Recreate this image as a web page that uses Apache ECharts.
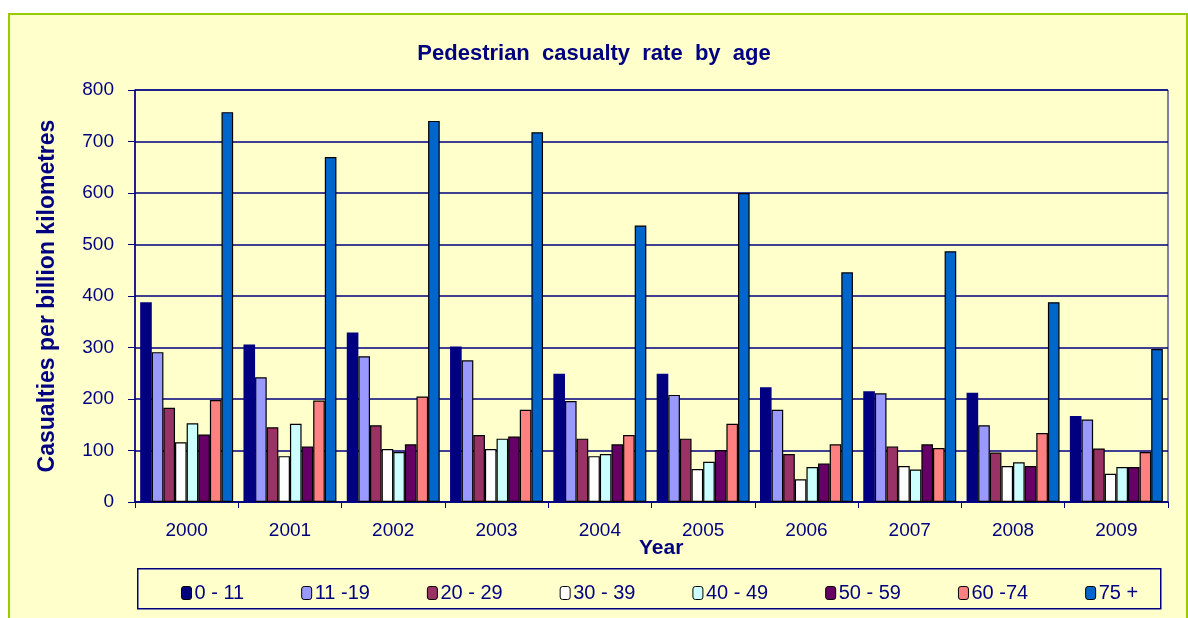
<!DOCTYPE html>
<html><head><meta charset="utf-8">
<script src="https://cdn.jsdelivr.net/npm/echarts@6/dist/echarts.min.js"></script>
<style>html,body{margin:0;padding:0;background:#fff}#c{width:1188px;height:618px}</style>
</head><body><div id="c"></div>
<script>
const years = ['2000','2001','2002','2003','2004','2005','2006','2007','2008','2009'];
const ageGroups = ['0 - 11','11 -19','20 - 29','30 - 39','40 - 49','50 - 59','60 -74','75 +'];
const age0_11  = [388, 306, 329, 302, 249, 249, 223, 215, 212, 167];
const age11_19 = [291, 242, 283, 275, 196, 208, 179, 211, 149, 160];
const age20_29 = [183, 145, 149, 130, 123, 123, 93, 108, 96, 104];
const age30_39 = [116, 89, 103, 103, 89, 64, 44, 70, 70, 55];
const age40_49 = [153, 152, 97, 123, 93, 78, 68, 63, 77, 68];
const age50_59 = [131, 108, 112, 127, 112, 101, 75, 112, 70, 68];
const age60_74 = [198, 197, 205, 179, 130, 152, 112, 105, 134, 97];
const age75p   = [757, 670, 740, 718, 537, 600, 446, 487, 388, 297];
const yTicks = [0, 100, 200, 300, 400, 500, 600, 700, 800];

const seriesData = [age0_11, age11_19, age20_29, age30_39, age40_49, age50_59, age60_74, age75p];
const colors = ['#000080','#9999FF','#993366','#FFFFFF','#CCFFFF','#660066','#FF8080','#0066CC'];
const navy = '#000080';
const font = 'Liberation Sans, Arial, sans-serif';

const chart = echarts.init(document.getElementById('c'), null, {renderer:'canvas'});
chart.setOption({
  backgroundColor: '#ffffff',
  animation: false,
  graphic: [
    {type:'rect', left: 8, top: 13, z: -10, shape:{width:1178, height:620},
     style:{fill:'#FFFFCC', stroke:'#99CC00', lineWidth:2}},
    {type:'rect', left: 137, top: 568, z: -5, shape:{width:1023, height:40},
     style:{fill:'#FFFFCC', stroke:navy, lineWidth:1.5}},
    {type:'text', left: 639, top: 538, style:{text:'Year', fill:navy, font:'bold 21px ' + font}}
  ],
  title: {
    text: 'Pedestrian  casualty  rate  by  age', left: 'center', top: 38,
    textStyle: {color: navy, fontWeight: 'bold', fontSize: 22, fontFamily: font}
  },
  legend: {
    data: ageGroups, left: 176, top: 578, itemWidth: 10, itemHeight: 13, itemGap: 57,
    textStyle: {color: navy, fontSize: 20, fontFamily: font, padding:[0,0,0,-2]},
    itemStyle: {borderColor: '#000', borderWidth: 1}
  },
  grid: {left: 135, right: 20, top: 90, bottom: 116, show: true,
         backgroundColor: '#FFFFCC', borderColor: navy, borderWidth: 1},
  xAxis: {
    type: 'category', data: years,
    axisLine: {lineStyle: {color: navy, width: 1.5}},
    axisTick: {show: true, alignWithLabel: false, length: 6, lineStyle:{color: navy}},
    axisLabel: {color: navy, fontSize: 19, fontFamily: font, margin: 19}
  },
  yAxis: {
    type: 'value', min: yTicks[0], max: yTicks[yTicks.length-1], interval: 100,
    name: 'Casualties per billion kilometres', nameLocation: 'middle', nameGap: 76,
    nameTextStyle: {color: navy, fontWeight: 'bold', fontSize: 23, fontFamily: font},
    axisLine: {show: true, lineStyle: {color: navy, width: 1.5}},
    axisTick: {show: true, length: 7, lineStyle: {color: navy}},
    axisLabel: {color: navy, fontSize: 19, fontFamily: font, margin: 21},
    splitLine: {lineStyle: {color: navy, width: 1.5}}
  },
  series: seriesData.map((d, i) => ({
    name: ageGroups[i], type: 'bar', data: d,
    barGap: '0%', barCategoryGap: '10%',
    itemStyle: {color: colors[i], borderColor: i === 0 ? navy : '#000', borderWidth: i === 0 ? 0 : 1.2}
  }))
});
</script></body></html>
